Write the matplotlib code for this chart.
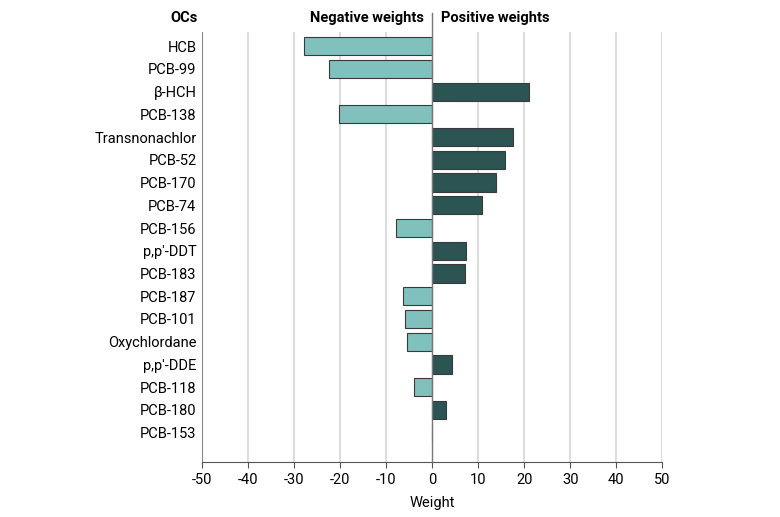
import matplotlib.pyplot as plt
import numpy as np

compounds = ['HCB', 'PCB-99', 'β-HCH', 'PCB-138', 'Transnonachlor', 'PCB-52',
             'PCB-170', 'PCB-74', 'PCB-156', "p,p'-DDT", 'PCB-183', 'PCB-187',
             'PCB-101', 'Oxychlordane', "p,p'-DDE", 'PCB-118', 'PCB-180', 'PCB-153']
weights = [-27.8, -22.3, 21.1, -20.2, 17.6, 15.9, 13.9, 10.9, -7.8, 7.4, 7.2,
           -6.3, -5.9, -5.4, 4.3, -3.9, 3.0, 0.0]
xticks = [-50, -40, -30, -20, -10, 0, 10, 20, 30, 40, 50]

plt.rcParams['font.family'] = ['DejaVu Sans Condensed', 'Roboto', 'DejaVu Sans']

light = '#80c1be'
dark = '#2b5452'

fig = plt.figure(figsize=(7.8, 5.17), dpi=100)
ax = fig.add_axes([0.259, 0.106, 0.590, 0.832])

y = np.arange(len(compounds))
colors = [dark if w > 0 else light for w in weights]
ax.barh(y, weights, height=0.8, color=colors, edgecolor='#3a3a3a', linewidth=0.8, zorder=3)

ax.set_xlim(-50, 50)
ax.set_ylim(18.3, -0.62)
ax.set_xticks(xticks)
ax.set_xticklabels([str(t) for t in xticks], fontsize=10.5)
ax.set_yticks(y)
ax.set_yticklabels(compounds, fontsize=10.5)
ax.tick_params(axis='y', length=0, pad=4)
ax.tick_params(axis='x', length=4, color='#555555', pad=4)

for t in xticks:
    if t != 0:
        ax.axvline(t, color='#dddddd', linewidth=1.5, zorder=0)
ax.plot([0, 0], [18.3, -1.45], color='#777777', linewidth=1.0, zorder=4, clip_on=False)

for s in ['top', 'right']:
    ax.spines[s].set_visible(False)
ax.spines['left'].set_color('#888888')
ax.spines['bottom'].set_color('#555555')

ax.set_xlabel('Weight', fontsize=10.5, labelpad=6)

fig.text(0.254, 0.965, 'OCs', ha='right', va='center', fontsize=10.5, fontweight='bold')
fig.text(0.544, 0.965, 'Negative weights', ha='right', va='center', fontsize=10.5, fontweight='bold')
fig.text(0.566, 0.965, 'Positive weights', ha='left', va='center', fontsize=10.5, fontweight='bold')

plt.savefig('out.png', dpi=100)
